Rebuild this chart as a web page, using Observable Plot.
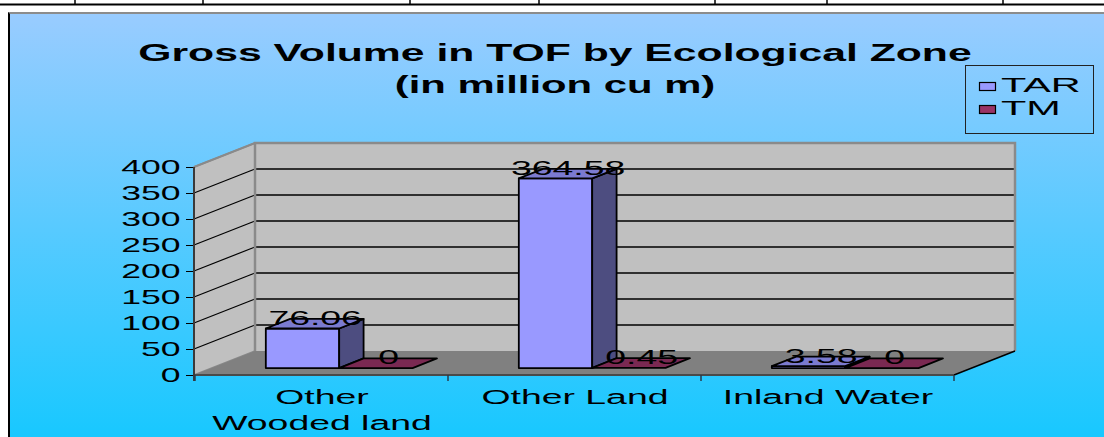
<!DOCTYPE html>
<html><head><meta charset="utf-8">
<script src="https://cdn.jsdelivr.net/npm/d3@7"></script>
<script src="https://cdn.jsdelivr.net/npm/@observablehq/plot@0.6"></script>
<style>
html,body{margin:0;padding:0;background:#fff;}
#wrap{position:relative;width:1104px;height:437px;overflow:hidden;background:#fff;}
#panel{position:absolute;left:8px;top:12px;width:1096px;height:425px;box-sizing:border-box;border-left:2px solid #000;border-top:2px solid #8c8c8c;background:linear-gradient(to bottom,#99ccff 0%,#18c8ff 100%);}
#strip,#chart,#overlay{position:absolute;left:0;top:0;}
</style></head><body>
<div id="wrap">
  <svg id="strip" width="1104" height="14"></svg>
  <div id="panel"></div>
  <div id="chart"></div>
  <svg id="overlay" width="1104" height="437"></svg>
</div>
<script>
// ---- data ----
const categories = ["Other Wooded land", "Other Land", "Inland Water"];
const categoryLabels = ["Other\nWooded land", "Other Land", "Inland Water"];
const series = ["TAR", "TM"];
const tarValues = [76.06, 364.58, 3.58];
const tmValues = [0, 0.45, 0];
const yTicks = [0, 50, 100, 150, 200, 250, 300, 350, 400];
const titleLines = ["Gross Volume in TOF by Ecological Zone", "(in million cu m)"];

// ---- styles / layout ----
const seriesColors = [
  {front: "#9999ff", top: "#7b7bd0", side: "#4d4d80"},
  {front: "#993366", top: "#7a2952", side: "#4d1a33"}
];
const FONT = '"Liberation Sans", Arial, Helvetica, sans-serif';
const STRETCH = 1.78;
const W = 1104, H = 437, mL = 194, mR = 150, mT = 167, mB = 62;
const depth = [61, -24];
const f0 = 0.29, f1 = 0.69;
const bw = (W - mL - mR) / categories.length;
const barFrac = 0.29;
const stripX = [75, 203, 410, 539, 715, 827, 1003];

const rows = categories.flatMap((c, i) => series.map((s, j) => ({cat: c, series: s, value: j === 0 ? tarValues[i] : tmValues[i]})));

const poly = (g, pts, fill, stroke, sw) => g.append("path")
  .attr("d", "M" + pts.map(p => p.join(",")).join("L") + "Z")
  .attr("fill", fill).attr("stroke", stroke || "none").attr("stroke-width", sw || 0)
  .attr("stroke-linejoin", "round");
const line = (g, a, b, stroke, sw) => g.append("line")
  .attr("x1", a[0]).attr("y1", a[1]).attr("x2", b[0]).attr("y2", b[1])
  .attr("stroke", stroke).attr("stroke-width", sw);

function walls(index, scales, values, dims) {
  const Y = scales.y;
  const x0 = dims.marginLeft, x1 = dims.width - dims.marginRight;
  const yb = Y(yTicks[0]), yt = Y(yTicks[yTicks.length - 1]);
  const [dx, dy] = depth;
  const g = d3.create("svg:g");
  poly(g, [[x0, yb], [x0, yt], [x0 + dx, yt + dy], [x0 + dx, yb + dy]], "#c0c0c0", "#8a8a8a", 1.5);
  poly(g, [[x0 + dx, yt + dy], [x1 + dx, yt + dy], [x1 + dx, yb + dy], [x0 + dx, yb + dy]], "#c0c0c0", "none", 0);
  poly(g, [[x0, yb], [x1, yb], [x1 + dx, yb + dy], [x0 + dx, yb + dy]], "#808080", "none", 0);
  for (const t of yTicks) {
    if (t === yTicks[0] || t === yTicks[yTicks.length - 1]) continue;
    const y = Y(t);
    line(g, [x0, y], [x0 + dx, y + dy], "#000", 1.2);
    line(g, [x0 + dx, y + dy], [x1 + dx, y + dy], "#000", 1.5);
  }
  g.append("path").attr("d", `M${x0 + dx},${yb + dy}L${x0 + dx},${yt + dy}L${x1 + dx},${yt + dy}L${x1 + dx},${yb + dy}`)
    .attr("fill", "none").attr("stroke", "#8a8a8a").attr("stroke-width", 2.5);
  line(g, [x0, yt], [x0 + dx, yt + dy], "#8a8a8a", 2);
  line(g, [x1, yb], [x1 + dx, yb + dy], "#000", 1.5);
  return g.node();
}

function bars(index, scales) {
  const X = scales.x, Y = scales.y;
  const b = X.bandwidth ? X.bandwidth() : bw;
  const w = barFrac * b, off = (b - 2 * w) / 2;
  const [dx, dy] = depth;
  const A = [f0 * dx, f0 * dy], B = [f1 * dx, f1 * dy];
  const g = d3.create("svg:g");
  for (const d of rows) {
    const j = series.indexOf(d.series);
    const c = seriesColors[j];
    const p0 = X(d.cat) + off + j * w, p1 = p0 + w;
    const yv = Y(d.value), yb = Y(0);
    if (yb - yv > 0.6) {
      poly(g, [[p0 + A[0], yv + A[1]], [p1 + A[0], yv + A[1]], [p1 + A[0], yb + A[1]], [p0 + A[0], yb + A[1]]], c.front, "#000", 1.8);
      poly(g, [[p1 + A[0], yv + A[1]], [p1 + B[0], yv + B[1]], [p1 + B[0], yb + B[1]], [p1 + A[0], yb + A[1]]], c.side, "#000", 1.8);
    }
    poly(g, [[p0 + A[0], yv + A[1]], [p1 + A[0], yv + A[1]], [p1 + B[0], yv + B[1]], [p0 + B[0], yv + B[1]]], c.top, "#000", 1.8);
  }
  return g.node();
}

function frontAxes(index, scales, values, dims) {
  const X = scales.x, Y = scales.y;
  const x0 = dims.marginLeft, x1 = dims.width - dims.marginRight;
  const yb = Y(0), yt = Y(yTicks[yTicks.length - 1]);
  const g = d3.create("svg:g");
  line(g, [x0, yb], [x1, yb], "#4a4a4a", 2);
  line(g, [x0, yt], [x0, yb + 6], "#3a3a3a", 2);
  const edges = categories.map(c => X(c)).concat([x1]);
  for (const e of edges) line(g, [e, yb], [e, yb + 6], "#2a3a4a", 1.5);
  return g.node();
}

const labelDx = j => {
  const w = barFrac * bw, off = (bw - 2 * w) / 2;
  return off + j * w + w / 2 + (f0 + f1) / 2 * depth[0] - bw / 2;
};
const labelDy = (f0 + f1) / 2 * depth[1] - 6;

const plot = Plot.plot({
  width: W, height: H,
  marginLeft: mL, marginRight: mR, marginTop: mT, marginBottom: mB,
  style: {background: "transparent", fontFamily: FONT, fontSize: "20px", color: "#000", overflow: "visible"},
  x: {type: "band", domain: categories, padding: 0, axis: null, label: null},
  y: {domain: [0, 400], ticks: yTicks, tickSize: 8, tickPadding: 6, label: null},
  marks: [
    walls,
    bars,
    ...series.map((s, j) => Plot.text(rows.filter(d => d.series === s), {
      x: "cat", y: "value", text: d => String(d.value),
      dx: labelDx(j), dy: labelDy, fontSize: 21, fill: "#000"
    })),
    frontAxes,
    Plot.text(categories, {
      x: d => d, text: (d, i) => categoryLabels[i], frameAnchor: "bottom",
      lineAnchor: "top", dy: 10, lineHeight: 1.24, fontSize: 21, fill: "#000"
    })
  ]
});
document.getElementById("chart").appendChild(plot);

const strip = d3.select("#strip");
line(strip, [0, 4.5], [1104, 4.5], "#000", 2);
for (const x of stripX) line(strip, [x, 0], [x, 4.5], "#000", 1.5);

const ov = d3.select("#overlay").attr("font-family", FONT);
ov.append("text").attr("x", 555).attr("y", 61).attr("text-anchor", "middle")
  .attr("font-size", 24).attr("font-weight", "bold").text(titleLines[0]);
ov.append("text").attr("x", 555).attr("y", 93).attr("text-anchor", "middle")
  .attr("font-size", 23.5).attr("font-weight", "bold").text(titleLines[1]);
ov.append("rect").attr("x", 965.5).attr("y", 65.5).attr("width", 128).attr("height", 68)
  .attr("fill", "none").attr("stroke", "#222").attr("stroke-width", 1);
series.forEach((s, j) => {
  ov.append("rect").attr("x", 979.5).attr("y", 82.5 + j * 23).attr("width", 16).attr("height", 8)
    .attr("fill", seriesColors[j].front).attr("stroke", "#000").attr("stroke-width", 1.2);
  ov.append("text").attr("x", 1001).attr("y", 92 + j * 23).attr("font-size", 20.5)
    .attr("data-stretch", 2.02).text(s);
});

function stretch(root, s) {
  root.querySelectorAll("text").forEach(t => {
    const k = +(t.getAttribute("data-stretch") || s);
    const b = t.getBBox();
    const a = getComputedStyle(t).textAnchor;
    const ax = a === "middle" ? b.x + b.width / 2 : a === "end" ? b.x + b.width : b.x;
    const prev = t.getAttribute("transform") || "";
    t.setAttribute("transform", `${prev} translate(${ax},0) scale(${k},1) translate(${-ax},0)`);
  });
}
stretch(plot, STRETCH);
stretch(document.getElementById("overlay"), STRETCH);
</script>
</body></html>
